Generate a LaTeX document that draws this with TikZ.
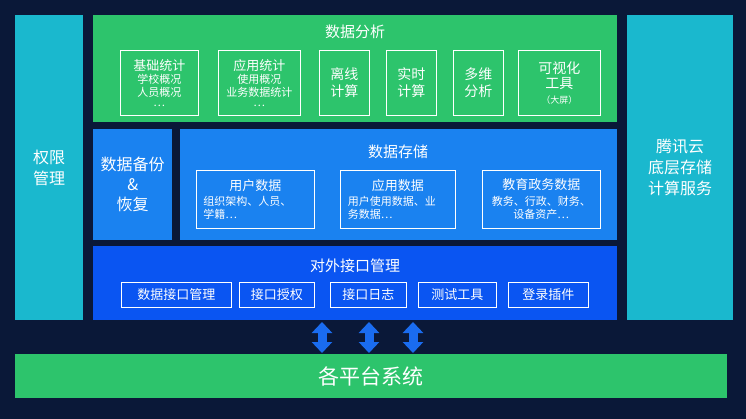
\documentclass[tikz,border=0pt]{standalone}
\usepackage{fontspec}
\setmainfont{Noto Sans CJK SC}
\usetikzlibrary{arrows.meta}
\definecolor{bg}{HTML}{0A1838}
\definecolor{cy}{HTML}{1AB8CE}
\definecolor{gr}{HTML}{2DC46C}
\definecolor{bl}{HTML}{1A82F0}
\definecolor{db}{HTML}{0A55F2}
\definecolor{ar}{HTML}{1A6CF0}
\tikzset{
 blk/.style={anchor=north west,inner sep=0pt,text=white,align=center},
 sub/.style={draw=white!80,line width=0.6pt,anchor=north west,inner sep=0pt,text=white,align=center,font=\fontsize{11}{13}\selectfont},
 ttl/.style={text=white,font=\fontsize{15}{18}\selectfont},
 dbl/.style={ar,line width=9pt,{Triangle[width=20pt,length=11pt]}-{Triangle[width=20pt,length=11pt]}}
}
\begin{document}
\begin{tikzpicture}[x=1pt,y=-1pt]
\fill[bg] (0,0) rectangle (746,419);
\useasboundingbox (0,0) rectangle (746,419);
\node[blk,fill=cy,minimum width=68pt,minimum height=305pt,font=\fontsize{16}{21}\selectfont] (qx) at (15,15) {权限\\管理};
\node[blk,fill=cy,minimum width=106pt,minimum height=305pt,font=\fontsize{16}{21}\selectfont] (tx) at (627,15) {腾讯云\\底层存储\\计算服务};
\node[blk,fill=gr,minimum width=524pt,minimum height=107pt] (fx) at (93,15) {};
\node[ttl] (fxt) at (355,32) {数据分析};
\node[sub,minimum width=78pt,minimum height=65pt] (s1) at (120,50) {\fontsize{13}{14}\selectfont 基础统计\\\fontsize{11}{12.5}\selectfont 学校概况\\人员概况\\[-3pt]…};
\node[sub,minimum width=82pt,minimum height=65pt] (s2) at (218,50) {\fontsize{13}{14}\selectfont 应用统计\\\fontsize{11}{12.5}\selectfont 使用概况\\业务数据统计\\[-3pt]…};
\node[sub,minimum width=50pt,minimum height=65pt,font=\fontsize{14}{17}\selectfont] (s3) at (319,50) {离线\\计算};
\node[sub,minimum width=50pt,minimum height=65pt,font=\fontsize{14}{17}\selectfont] (s4) at (386,50) {实时\\计算};
\node[sub,minimum width=50pt,minimum height=65pt,font=\fontsize{14}{17}\selectfont] (s5) at (453,50) {多维\\分析};
\node[sub,minimum width=82pt,minimum height=65pt,font=\fontsize{14}{15}\selectfont] (s6) at (518,50) {可视化\\工具\\{\fontsize{9}{11}\selectfont （大屏）}};
\node[blk,fill=bl,minimum width=79pt,minimum height=111pt,font=\fontsize{16}{20}\selectfont] (bf) at (93,129) {数据备份\\\&\\恢复};
\node[blk,fill=bl,minimum width=437pt,minimum height=111pt] (cc) at (180,129) {};
\node[ttl] (cct) at (398,152) {数据存储};
\node[sub,minimum width=118pt,minimum height=58pt] (c1) at (196,170) {\fontsize{13}{15}\selectfont 用户数据\\[3pt]\parbox{104pt}{\fontsize{11}{13}\selectfont\raggedright 组织架构、人员、\\学籍…}};
\node[sub,minimum width=115pt,minimum height=58pt] (c2) at (340,170) {\fontsize{13}{15}\selectfont 应用数据\\[3pt]\parbox{100pt}{\fontsize{11}{13}\selectfont\raggedright 用户使用数据、业\\务数据…}};
\node[sub,minimum width=118pt,minimum height=58pt] (c3) at (482,170) {\fontsize{13}{15}\selectfont 教育政务数据\\[3pt]\fontsize{11}{13}\selectfont 教务、行政、财务、\\设备资产…};
\node[blk,fill=db,minimum width=524pt,minimum height=74pt] (jk) at (93,246) {};
\node[ttl] (jkt) at (355,266) {对外接口管理};
\node[sub,minimum width=110pt,minimum height=25pt,font=\fontsize{13}{14}\selectfont] (j1) at (121,282) {数据接口管理};
\node[sub,minimum width=75pt,minimum height=25pt,font=\fontsize{13}{14}\selectfont] (j2) at (239,282) {接口授权};
\node[sub,minimum width=76pt,minimum height=25pt,font=\fontsize{13}{14}\selectfont] (j3) at (330,282) {接口日志};
\node[sub,minimum width=78pt,minimum height=25pt,font=\fontsize{13}{14}\selectfont] (j4) at (418,282) {测试工具};
\node[sub,minimum width=80pt,minimum height=25pt,font=\fontsize{13}{14}\selectfont] (j5) at (508,282) {登录插件};
\node[blk,fill=gr,minimum width=712pt,minimum height=44pt,font=\fontsize{21}{24}\selectfont] (pt) at (15,354) {各平台系统};
\coordinate (a1) at (322,322); \coordinate (b1) at (322,353);
\coordinate (a2) at (369,322); \coordinate (b2) at (369,353);
\coordinate (a3) at (413,322); \coordinate (b3) at (413,353);
\draw[dbl] (a1) -- (b1);
\draw[dbl] (a2) -- (b2);
\draw[dbl] (a3) -- (b3);
\end{tikzpicture}
\end{document}
